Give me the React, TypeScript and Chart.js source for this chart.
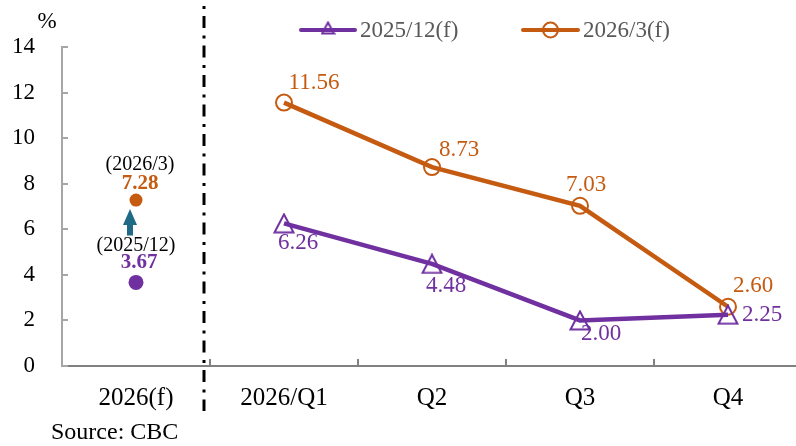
import { useEffect, useRef } from "react";
import { Chart, registerables } from "chart.js";

Chart.register(...registerables);

const FONT = '"Liberation Serif", "Times New Roman", Times, serif';

// Categories and forecast values (%)
const categories = ["2026(f)", "2026/Q1", "Q2", "Q3", "Q4"];
const seriesNames = ["2025/12(f)", "2026/3(f)"];
const forecastDec: (number | null)[] = [null, 6.26, 4.48, 2.0, 2.25];
const forecastMar: (number | null)[] = [null, 11.56, 8.73, 7.03, 2.6];
const annualDec: (number | null)[] = [3.67, null, null, null, null];
const annualMar: (number | null)[] = [7.28, null, null, null, null];
const annualTags = ["(2025/12)", "(2026/3)"];
const yMin = 0;
const yMax = 14;
const yStep = 2;
const unitLabel = "%";
const sourceNote = "Source: CBC";

const PURPLE = "#7030A0";
const ORANGE = "#C55A11";
const ARROW = "#1F6A86";

// Offsets of the value labels from their points, in px
const decLabelOffsets: ([number, number] | null)[] = [null, [14, 20], [14, 22], [21, 14], [34, 0]];
const marLabelOffsets: ([number, number] | null)[] = [null, [30, -20], [27, -17], [6, -21], [25, -21]];

const CANVAS_W = 810;
const CANVAS_H = 446;

function makeTriangle(w: number, h: number, color: string, lw: number): HTMLCanvasElement {
  const c = document.createElement("canvas");
  c.width = w;
  c.height = h;
  const g = c.getContext("2d")!;
  g.strokeStyle = color;
  g.lineWidth = lw;
  g.lineJoin = "miter";
  g.beginPath();
  g.moveTo(w / 2, lw * 0.75);
  g.lineTo(w - lw * 0.75, h - lw * 0.75);
  g.lineTo(lw * 0.75, h - lw * 0.75);
  g.closePath();
  g.stroke();
  return c;
}

export default function App() {
  const ref = useRef<HTMLCanvasElement | null>(null);

  useEffect(() => {
    document.body.style.margin = "0";
    document.body.style.overflow = "hidden";
    const canvas = ref.current;
    if (!canvas) return;

    const triBig = makeTriangle(22, 21, PURPLE, 2);
    const triSmall = makeTriangle(15, 14, PURPLE, 2);

    const decor = {
      id: "decor",
      beforeDatasetsDraw(chart: any) {
        const { ctx, chartArea } = chart;
        const x = chart.scales.x;
        const y = chart.scales.y;
        ctx.save();
        // inward tick marks on the value axis
        ctx.strokeStyle = "#A6A6A6";
        ctx.lineWidth = 2;
        y.ticks.forEach((_t: any, i: number) => {
          const py = Math.round(y.getPixelForTick(i));
          ctx.beginPath();
          ctx.moveTo(chartArea.left, py);
          ctx.lineTo(chartArea.left + 6, py);
          ctx.stroke();
        });
        // inward tick marks at category boundaries
        const band = x.getPixelForValue(1) - x.getPixelForValue(0);
        ctx.strokeStyle = "#808080";
        for (let i = 1; i < categories.length; i++) {
          const px = Math.round(x.getPixelForValue(i) - band / 2);
          ctx.beginPath();
          ctx.moveTo(px, chartArea.bottom);
          ctx.lineTo(px, chartArea.bottom - 7);
          ctx.stroke();
        }
        // dash-dot separator between the annual and quarterly panels
        const sepX = x.getPixelForValue(1) - band / 2 - 6;
        ctx.strokeStyle = "#000";
        ctx.lineWidth = 3;
        ctx.setLineDash([3, 7, 12, 7.5]);
        ctx.beginPath();
        ctx.moveTo(sepX, 6);
        ctx.lineTo(sepX, 411);
        ctx.stroke();
        ctx.setLineDash([]);
        // arrow from the earlier to the later annual forecast
        const ax = x.getPixelForValue(0) - 6;
        const tipY = y.getPixelForValue(annualMar[0] as number) + 9;
        const tailY = y.getPixelForValue(annualDec[0] as number) - 47;
        const headBase = tipY + 16;
        ctx.fillStyle = ARROW;
        ctx.beginPath();
        ctx.moveTo(ax, tipY);
        ctx.lineTo(ax + 7, headBase);
        ctx.lineTo(ax + 3, headBase);
        ctx.lineTo(ax + 3, tailY);
        ctx.lineTo(ax - 3, tailY);
        ctx.lineTo(ax - 3, headBase);
        ctx.lineTo(ax - 7, headBase);
        ctx.closePath();
        ctx.fill();
        ctx.restore();
      },
      afterDatasetsDraw(chart: any) {
        const { ctx } = chart;
        ctx.save();
        ctx.textAlign = "center";
        ctx.textBaseline = "middle";

        const drawValues = (dsIndex: number, values: (number | null)[], offs: ([number, number] | null)[], color: string) => {
          const meta = chart.getDatasetMeta(dsIndex);
          ctx.fillStyle = color;
          ctx.font = `23px ${FONT}`;
          meta.data.forEach((pt: any, j: number) => {
            const v = values[j];
            const o = offs[j];
            if (v == null || !o) return;
            ctx.fillText(v.toFixed(2), pt.x + o[0], pt.y + o[1]);
          });
        };
        drawValues(0, forecastDec, decLabelOffsets, PURPLE);
        drawValues(1, forecastMar, marLabelOffsets, ORANGE);

        // annual forecast annotations
        const pDec = chart.getDatasetMeta(2).data[0];
        const pMar = chart.getDatasetMeta(3).data[0];
        ctx.fillStyle = "#000";
        ctx.font = `20px ${FONT}`;
        ctx.fillText(annualTags[1], pMar.x + 4, pMar.y - 35);
        ctx.fillText(annualTags[0], pDec.x, pDec.y - 37);
        ctx.font = `bold 21px ${FONT}`;
        ctx.fillStyle = ORANGE;
        ctx.fillText((annualMar[0] as number).toFixed(2), pMar.x + 4, pMar.y - 17);
        ctx.fillStyle = PURPLE;
        ctx.fillText((annualDec[0] as number).toFixed(2), pDec.x + 3, pDec.y - 20);

        // legend
        const legendY = 30;
        const entries = [
          { x0: 301, x1: 355, color: PURPLE, marker: "tri", text: seriesNames[0] },
          { x0: 523, x1: 578, color: ORANGE, marker: "circle", text: seriesNames[1] },
        ];
        entries.forEach((e) => {
          ctx.strokeStyle = e.color;
          ctx.lineWidth = 4;
          ctx.lineCap = "round";
          ctx.beginPath();
          ctx.moveTo(e.x0, legendY);
          ctx.lineTo(e.x1, legendY);
          ctx.stroke();
          const cx = (e.x0 + e.x1) / 2;
          if (e.marker === "tri") {
            ctx.drawImage(triSmall, cx - triSmall.width / 2, legendY - 9);
          } else {
            ctx.lineWidth = 2;
            ctx.beginPath();
            ctx.arc(cx, legendY, 7.5, 0, Math.PI * 2);
            ctx.stroke();
          }
          ctx.fillStyle = "#595959";
          ctx.font = `23px ${FONT}`;
          ctx.textAlign = "left";
          ctx.fillText(e.text, e.x1 + 5, legendY + 1);
        });

        // unit and source
        ctx.fillStyle = "#000";
        ctx.textAlign = "center";
        ctx.font = `23px ${FONT}`;
        ctx.fillText(unitLabel, 47, 22);
        ctx.textAlign = "left";
        ctx.font = `24px ${FONT}`;
        ctx.fillText(sourceNote, 51, 433);
        ctx.restore();
      },
    };

    const chart = new Chart(canvas, {
      type: "line",
      data: {
        labels: categories,
        datasets: [
          {
            label: seriesNames[0],
            data: forecastDec,
            borderColor: PURPLE,
            borderWidth: 4.5,
            pointStyle: triBig as any,
            pointRadius: 10,
            pointBorderColor: PURPLE,
            pointBackgroundColor: "rgba(0,0,0,0)",
          },
          {
            label: seriesNames[1],
            data: forecastMar,
            borderColor: ORANGE,
            borderWidth: 4.5,
            pointStyle: "circle",
            pointRadius: 8,
            pointBorderWidth: 2,
            pointBorderColor: ORANGE,
            pointBackgroundColor: "rgba(0,0,0,0)",
          },
          {
            label: annualTags[0],
            data: annualDec,
            showLine: false,
            pointStyle: "circle",
            pointRadius: 7.5,
            pointBorderWidth: 0,
            pointBackgroundColor: PURPLE,
            borderColor: PURPLE,
          },
          {
            label: annualTags[1],
            data: annualMar,
            showLine: false,
            pointStyle: "circle",
            pointRadius: 6.5,
            pointBorderWidth: 0,
            pointBackgroundColor: ORANGE,
            borderColor: ORANGE,
          },
        ],
      },
      options: {
        responsive: false,
        animation: false,
        devicePixelRatio: 1,
        layout: { autoPadding: false, padding: { left: 0, top: 47, right: 8, bottom: 0 } },
        plugins: {
          legend: { display: false },
          tooltip: { enabled: false },
        },
        scales: {
          x: {
            type: "category",
            offset: true,
            grid: { display: false, drawTicks: false },
            border: { display: true, color: "#808080", width: 2 },
            ticks: {
              color: "#000",
              font: { family: FONT, size: 25 },
              padding: 17,
              maxRotation: 0,
              autoSkip: false,
            },
            afterFit: (s: any) => {
              s.height = 80;
            },
          },
          y: {
            min: yMin,
            max: yMax,
            grid: { display: false, drawTicks: false },
            border: { display: true, color: "#A6A6A6", width: 2 },
            ticks: {
              stepSize: yStep,
              color: "#000",
              font: { family: FONT, size: 23 },
              padding: 27,
            },
            afterFit: (s: any) => {
              s.width = 62;
            },
          },
        },
      },
      plugins: [decor],
    });

    return () => chart.destroy();
  }, []);

  return (
    <div style={{ width: CANVAS_W, height: CANVAS_H }}>
      <canvas
        ref={ref}
        width={CANVAS_W}
        height={CANVAS_H}
        style={{ display: "block", width: CANVAS_W, height: CANVAS_H }}
      />
    </div>
  );
}
